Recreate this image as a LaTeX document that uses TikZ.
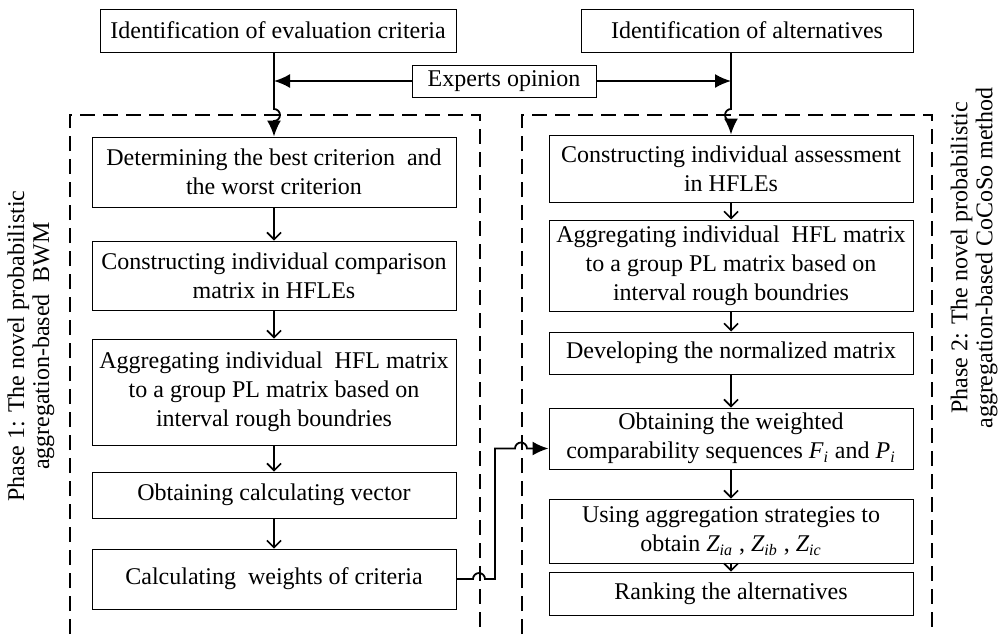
\documentclass[tikz,border=0pt]{standalone}
\usepackage{amsmath}
\usepackage{fontspec}
\setmainfont{Liberation Serif}
\usetikzlibrary{arrows.meta}

\begin{document}
\begin{tikzpicture}[x=0.5pt, y=-0.5pt,
	every node/.style={font=\fontsize{12}{14.5}\selectfont},
	stepbox/.style={draw=black, line width=0.5pt, align=center, inner sep=0pt, minimum width=182pt},
	phasebox/.style={draw=black, line width=1pt, dash pattern=on 7.5pt off 4pt},
	phaselabel/.style={align=center, rotate=90, font=\fontsize{12}{12.5}\selectfont},
	solid arrow/.style={draw=black, line width=0.9pt, -{Latex[length=8pt, width=7pt]}},
	open arrow/.style={draw=black, line width=0.8pt, -{Straight Barb[length=3.5pt, width=7pt]}}]
	\useasboundingbox (0,0) rectangle (999,634);
	
	% top row
	\node[stepbox, minimum width=178pt, minimum height=21.5pt] (crit) at (278,30.5){Identification of evaluation criteria};
	\node[stepbox, minimum width=166pt, minimum height=21.5pt] (alt) at (747,30.5){Identification of alternatives};
	\node[stepbox, minimum width=92pt, minimum height=16pt] (exp) at (504,81){Experts opinion};
	
	% phase frames
	\draw[phasebox] (70,634) -- (70,115) -- (480,115) -- (480,634);
	\draw[phasebox] (522,634) -- (522,115) -- (932,115) -- (932,634);
	
	\node[phaselabel] (ph1) at (31,346){Phase 1: The novel probabilistic\\aggregation-based \ BWM};
	\node[phaselabel] (ph2) at (974,258){Phase 2: The novel probabilistic\\aggregation-based CoCoSo method};
	
	% phase 1
	\node[stepbox, minimum height=35pt] (best) at (274,172){Determining the best criterion \ and\\the worst criterion};
	\node[stepbox, minimum height=34.5pt] (comp) at (274,275.5){Constructing individual comparison\\matrix in HFLEs};
	\node[stepbox, minimum height=53pt] (aggl) at (274,392){Aggregating individual \ HFL matrix\\to a group PL matrix based on\\interval rough boundries};
	\node[stepbox, minimum height=23pt] (vec) at (274,495){Obtaining calculating vector};
	\node[stepbox, minimum height=30pt] (wts) at (274,579){Calculating \ weights of criteria};
	
	% phase 2
	\node[stepbox, minimum height=33.5pt] (assess) at (731,168.5){Constructing individual assessment\\in HFLEs};
	\node[stepbox, minimum height=45.5pt] (aggr) at (731,265.5){Aggregating individual \ HFL matrix\\to a group PL matrix based on\\interval rough boundries};
	\node[stepbox, minimum height=21pt] (norm) at (731,353){Developing the normalized matrix};
	\node[stepbox, minimum height=30.5pt] (seq) at (731,438.5){Obtaining the weighted\\comparability sequences $\textit{F}_{\textit{i}}$ and $\textit{P}_{\textit{i}}$};
	\node[stepbox, minimum height=32pt] (strat) at (731,531){Using aggregation strategies to\\obtain $\textit{Z}_{\textit{ia}}$ , $\textit{Z}_{\textit{ib}}$ , $\textit{Z}_{\textit{ic}}$};
	\node[stepbox, minimum height=21.5pt] (rank) at (731,593.5){Ranking the alternatives};
	
	% inputs
	\path[solid arrow] (crit.south -| best.north) -- (274,109) arc[start angle=90, end angle=-90, radius=3pt] -- (best.north);
	\path[solid arrow] (alt.south -| assess.north) -- (731,109) arc[start angle=90, end angle=270, radius=3pt] -- (assess.north);
	\path[solid arrow] (exp.west) -- (exp.west -| best.north);
	\path[solid arrow] (exp.east) -- (exp.east -| assess.north);
	
	% steps
	\path[open arrow] (best) edge (comp);
	\path[open arrow] (comp) edge (aggl);
	\path[open arrow] (aggl) edge (vec);
	\path[open arrow] (vec) edge (wts);
	\path[open arrow] (assess) edge (aggr);
	\path[open arrow] (aggr) edge (norm);
	\path[open arrow] (norm) edge (seq);
	\path[open arrow] (seq) edge (strat);
	\path[open arrow] (strat) edge (rank);
	
	% weights to phase 2
	\path[solid arrow] (wts.east) -- (473,579) arc[start angle=180, end angle=0, radius=3pt] -- (495,579) -- (495,448.5) -- (515,448.5) arc[start angle=180, end angle=0, radius=3pt] -- ([yshift=-5pt]seq.west);
\end{tikzpicture}
\end{document}
